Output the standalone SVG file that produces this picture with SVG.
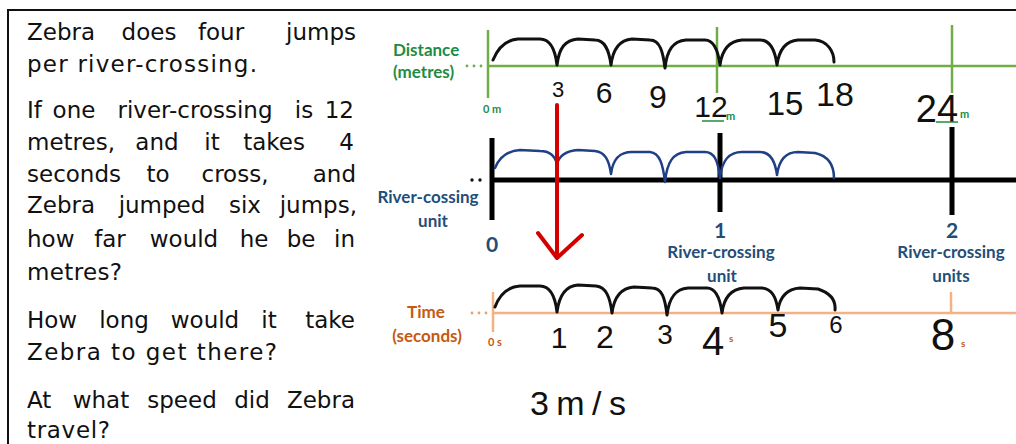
<svg xmlns="http://www.w3.org/2000/svg" width="1016" height="444" viewBox="0 0 1016 444">
<style>
.q{font-family:"DejaVu Sans",sans-serif;font-size:23px;fill:#111}
.m{text-anchor:middle}
.e{text-anchor:end}
.lbl{font-family:Lato,"Open Sans",sans-serif;font-weight:bold}
.g{fill:#1E8C45}
.b{fill:#1F4E79}
.o{fill:#C55A11}
.hw{font-family:"Liberation Sans",sans-serif;fill:#111;text-anchor:middle}
.jump{fill:none;stroke:#111;stroke-width:3;stroke-linecap:round;stroke-linejoin:round}
.bjump{fill:none;stroke:#1F3F86;stroke-width:2.5;stroke-linecap:round;stroke-linejoin:round}
.gl{stroke:#70AD47;stroke-width:2.5}
.ol{stroke:#F4B183;stroke-width:2.5}
.kl{stroke:#000;stroke-width:5}
</style>
<rect width="1016" height="444" fill="#fff"/>
<g id="frame" stroke="#111" stroke-width="2">
<line x1="7" y1="10" x2="1016" y2="10"/>
<line x1="8" y1="10" x2="8" y2="444"/>
</g>
<g id="question-text" class="q">
<text y="40"><tspan x="27">Zebra</tspan><tspan x="149" class="m">does</tspan><tspan x="221" class="m">four</tspan><tspan x="356" class="e">jumps</tspan></text>
<text x="27" y="72" textLength="230" lengthAdjust="spacing">per river-crossing.</text>
<text y="118"><tspan x="27">If</tspan><tspan x="74" class="m">one</tspan><tspan x="195" class="m">river-crossing</tspan><tspan x="304" class="m">is</tspan><tspan x="354" class="e">12</tspan></text>
<text y="150"><tspan x="27">metres,</tspan><tspan x="157" class="m">and</tspan><tspan x="212" class="m">it</tspan><tspan x="274" class="m">takes</tspan><tspan x="354" class="e">4</tspan></text>
<text y="182"><tspan x="27">seconds</tspan><tspan x="158" class="m">to</tspan><tspan x="235" class="m">cross,</tspan><tspan x="356" class="e">and</tspan></text>
<text y="213"><tspan x="27">Zebra</tspan><tspan x="162" class="m">jumped</tspan><tspan x="245" class="m">six</tspan><tspan x="357" class="e">jumps,</tspan></text>
<text y="247"><tspan x="27">how</tspan><tspan x="110" class="m">far</tspan><tspan x="184" class="m">would</tspan><tspan x="254" class="m">he</tspan><tspan x="301" class="m">be</tspan><tspan x="355" class="e">in</tspan></text>
<text x="27" y="280" textLength="95" lengthAdjust="spacing">metres?</text>
<text y="328"><tspan x="27">How</tspan><tspan x="124" class="m">long</tspan><tspan x="205" class="m">would</tspan><tspan x="269" class="m">it</tspan><tspan x="355" class="e">take</tspan></text>
<text x="27" y="360" textLength="250" lengthAdjust="spacing">Zebra to get there?</text>
<text y="408"><tspan x="27">At</tspan><tspan x="101" class="m">what</tspan><tspan x="182" class="m">speed</tspan><tspan x="252" class="m">did</tspan><tspan x="355" class="e">Zebra</tspan></text>
<text x="27" y="438" textLength="83" lengthAdjust="spacing">travel?</text>
</g>
<g id="distance-line">
<line class="gl" x1="488" y1="66" x2="1016" y2="66"/>
<line class="gl" x1="488" y1="30" x2="488" y2="98"/>
<line class="gl" x1="717" y1="27" x2="717" y2="93"/>
<line class="gl" x1="952" y1="25" x2="952" y2="93"/>
<g fill="#70AD47"><circle cx="467" cy="66" r="1.4"/><circle cx="474" cy="66" r="1.4"/><circle cx="481" cy="66" r="1.4"/></g>
<text class="lbl g" x="393" y="56" font-size="17">Distance</text>
<text class="lbl g" x="393" y="78" font-size="17">(metres)</text>
<text class="lbl g" x="483" y="113" font-size="11">0 m</text>
<path class="jump" d="M493,60 C497,50 505,40 518,39 L540,39 C550,39 555,48 557,65 C559,48 565,40 578,39 L595,40 C605,40 609,50 611,65 C613,48 620,40 632,39 L650,40 C660,40 663,52 665,68 C667,50 673,41 686,40 L705,40 C714,40 718,50 720,65 C722,50 729,41 742,40 L760,40 C770,40 775,50 777,65 C779,50 786,41 798,40 L815,40 C828,41 834,52 834,62"/>
<text class="hw" x="558" y="97" font-size="22">3</text>
<text class="hw" x="604" y="103" font-size="30">6</text>
<text class="hw" x="658" y="108" font-size="32">9</text>
<text class="hw" x="711" y="117" font-size="30">12</text>
<line x1="702" y1="121" x2="724" y2="121" stroke="#1E8C45" stroke-width="1.5"/>
<text class="lbl g" x="726" y="120" font-size="11">m</text>
<text class="hw" x="785" y="115" font-size="33">15</text>
<text class="hw" x="835" y="106" font-size="34">18</text>
<text class="hw" x="937" y="122" font-size="38">24</text>
<line x1="936" y1="122" x2="958" y2="122" stroke="#1E8C45" stroke-width="1.5"/>
<text class="lbl g" x="960" y="118" font-size="11">m</text>
</g>
<g id="river-crossing-line">
<line class="kl" x1="490" y1="180" x2="1016" y2="180"/>
<line class="kl" x1="492" y1="138" x2="492" y2="220"/>
<line class="kl" x1="720" y1="133" x2="720" y2="212"/>
<line class="kl" x1="952" y1="127" x2="952" y2="215"/>
<g fill="#111"><circle cx="472" cy="180" r="1.7"/><circle cx="480" cy="180" r="1.7"/></g>
<path class="bjump" d="M495,168 C499,158 506,151 520,150 L540,151 C550,151 555,156 557,164 C559,156 566,151 578,150 L595,151 C605,152 609,160 611,174 C613,158 620,152 632,152 L650,152 C660,153 663,165 665,182 C667,162 673,153 686,152 L705,152 C714,152 718,160 720,178 C722,160 729,152 742,152 L760,152 C770,152 775,160 777,175 C779,160 786,152 798,152 L815,153 C828,156 834,165 834,178"/>
<text class="lbl b" x="428" y="203" font-size="17" text-anchor="middle">River-cossing</text>
<text class="lbl b" x="433" y="227" font-size="17" text-anchor="middle">unit</text>
<text class="lbl b" x="492" y="252" font-size="21" text-anchor="middle">0</text>
<text class="lbl b" x="720" y="238" font-size="21" text-anchor="middle">1</text>
<text class="lbl b" x="721" y="258" font-size="17" text-anchor="middle">River-crossing</text>
<text class="lbl b" x="722" y="282" font-size="17" text-anchor="middle">unit</text>
<text class="lbl b" x="952" y="238" font-size="21" text-anchor="middle">2</text>
<text class="lbl b" x="951" y="258" font-size="17" text-anchor="middle">River-crossing</text>
<text class="lbl b" x="951" y="282" font-size="17" text-anchor="middle">units</text>
</g>
<g id="time-line">
<line class="ol" x1="493" y1="313" x2="1016" y2="313"/>
<line class="ol" x1="493" y1="292" x2="493" y2="332"/>
<line class="ol" x1="951" y1="292" x2="951" y2="313"/>
<g fill="#E8A070"><circle cx="472" cy="313" r="1.4"/><circle cx="479" cy="313" r="1.4"/><circle cx="486" cy="313" r="1.4"/></g>
<text class="lbl o" x="426" y="318" font-size="17" text-anchor="middle">Time</text>
<text class="lbl o" x="427" y="342" font-size="17" text-anchor="middle">(seconds)</text>
<text class="lbl o" x="488" y="346" font-size="11">0 s</text>
<path class="jump" d="M495,307 C499,296 506,287 520,286 L540,286 C550,286 555,295 557,312 C559,296 566,286 578,285 L596,286 C606,287 610,297 612,313 C614,297 621,288 634,287 L652,288 C662,288 665,298 667,315 C669,298 675,289 688,288 L707,288 C716,288 720,298 722,313 C724,297 731,289 744,288 L762,288 C772,289 776,297 778,310 C780,296 787,289 800,288 L818,289 C830,293 836,300 835,310"/>
<text class="hw" x="559" y="348" font-size="30">1</text>
<text class="hw" x="605" y="348" font-size="32">2</text>
<text class="hw" x="665" y="344" font-size="28">3</text>
<text class="hw" x="713" y="355" font-size="40">4</text>
<text class="lbl o" x="729" y="342" font-size="10">s</text>
<text class="hw" x="778" y="337" font-size="34">5</text>
<text class="hw" x="836" y="333" font-size="24">6</text>
<text class="hw" x="943" y="350" font-size="44">8</text>
<text class="lbl o" x="961" y="347" font-size="10">s</text>
<text class="hw" x="578" y="415" font-size="34" textLength="96" lengthAdjust="spacing">3m/s</text>
</g>
<g id="connectors" fill="none" stroke="#D40000" stroke-width="4" stroke-linecap="round" stroke-linejoin="round">
<line x1="557" y1="105" x2="557" y2="256"/>
<polyline points="538,233 557,258 582,235"/>
</g>
</svg>
